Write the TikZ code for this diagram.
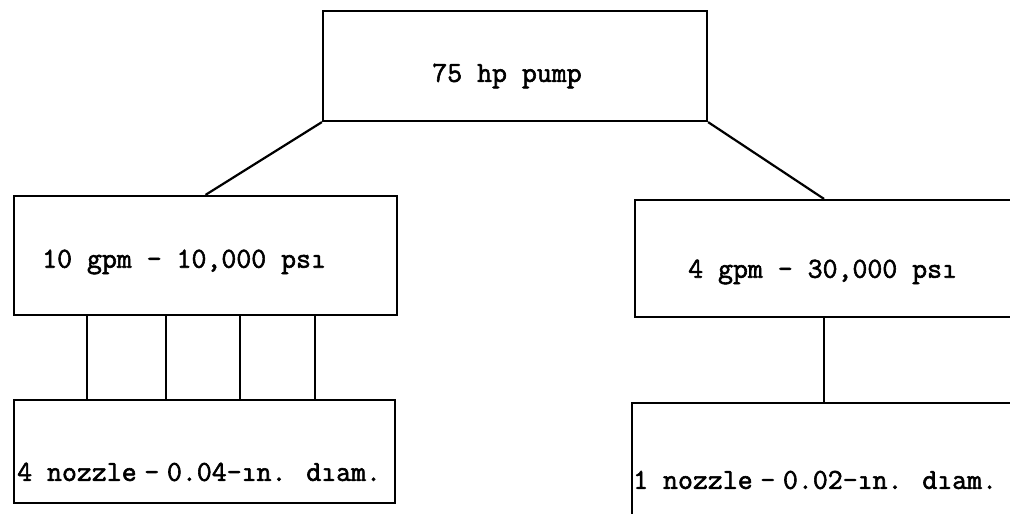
\documentclass[tikz,border=0pt]{standalone}
\usepackage{fontspec}
\newfontfamily\typewriter{Latin Modern Mono}[FakeBold=2]
\usetikzlibrary{calc}
\tikzset{
  box/.style={draw, line width=2.2pt, rectangle, inner sep=0pt},
  label/.style={inner sep=0pt, font=\typewriter\fontsize{29}{34}\selectfont},
  link/.style={line width=2.2pt}
}
\begin{document}
\begin{tikzpicture}[x=1pt,y=-1pt]
\useasboundingbox (0,0) rectangle (1010,514);
\clip (0,0) rectangle (1010,514);

% boxes
\node[box, minimum width=384pt, minimum height=110pt] (pump) at (515,66) {};
\node[box, minimum width=383pt, minimum height=119pt] (lo)   at (205.5,255.5) {};
\node[box, minimum width=378pt, minimum height=117pt] (hi)   at (824,258.5) {};
\node[box, minimum width=381pt, minimum height=103pt] (lonz) at (204.5,451.5) {};
\node[box, minimum width=384pt, minimum height=122pt] (hinz) at (824,464) {};

% texts
\node[label] (tpump) at (507,76) {75 hp pump};
\node[label, anchor=west] (tlo) at (42,262) {10 gpm - 10,000 psı};
\node[label, anchor=west] (thi) at (688,272) {4 gpm - 30,000 psı};
\node[label, anchor=west] (tlonz) at (17,472) {4 nozzle\hspace{-0.25em} - \hspace{-0.25em}0.04-ın. dıam.};
\node[label, anchor=west] (thinz) at (633,480) {1 nozzle\hspace{-0.25em} - \hspace{-0.25em}0.02-ın. dıam.};

% connectors
\draw[link] (pump.south west) -- (lo.north);
\draw[link] (pump.south east) -- (hi.north);
\foreach \x in {87,166,240,315}
  \draw[link] (\x,0 |- lo.south) -- (\x,0 |- lonz.north);
\draw[link] (hi.south) -- (hinz.north);
\end{tikzpicture}
\end{document}
